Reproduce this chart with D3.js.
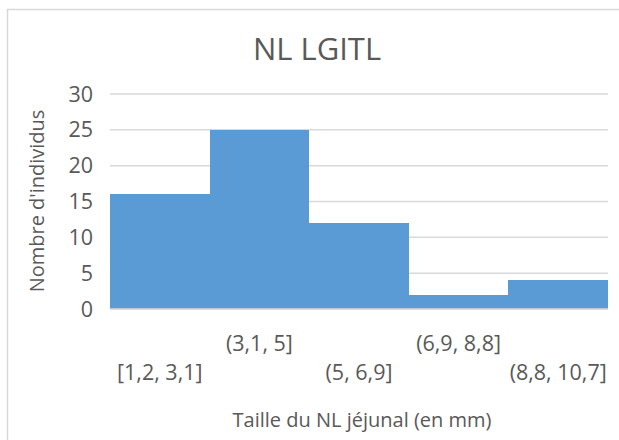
<!DOCTYPE html>
<html><head><meta charset="utf-8">
<script src="https://cdn.jsdelivr.net/npm/d3@7"></script>
<style>body{margin:0;background:#fff}svg{display:block}text{font-family:"Open Sans",sans-serif;fill:#595959}</style>
</head><body><svg id="c" width="619" height="440"></svg>
<script>
const categories = ["[1,2, 3,1]", "(3,1, 5]", "(5, 6,9]", "(6,9, 8,8]", "(8,8, 10,7]"];
const counts = [16, 25, 12, 2, 4];
const yTicks = [0, 5, 10, 15, 20, 25, 30];
const title = "NL LGITL";
const xTitle = "Taille du NL jéjunal (en mm)";
const yTitle = "Nombre d'individus";

const svg = d3.select("#c");
const m = {l:110, r:11, t:94, b:131};
const W = 619, H = 440;
svg.append("rect").attr("x",7.5).attr("y",9.5).attr("width",700).attr("height",600)
  .attr("fill","#fff").attr("stroke","#d9d9d9").attr("stroke-width",1.5);

const x = d3.scaleBand().domain(categories).range([m.l, W - m.r]).padding(0);
const y = d3.scaleLinear().domain([0, 30]).range([H - m.b, m.t]);

const grid = svg.append("g");
grid.selectAll("line").data(yTicks).join("line")
  .attr("x1", m.l).attr("x2", W - m.r)
  .attr("y1", d => y(d)).attr("y2", d => y(d))
  .attr("stroke", "#d9d9d9").attr("stroke-width", 1.5);

svg.append("g").attr("shape-rendering","crispEdges").selectAll("rect").data(counts).join("rect")
  .attr("x", (d,i) => Math.round(x(categories[i])))
  .attr("width", (d,i) => Math.round(x(categories[i]) + x.bandwidth()) - Math.round(x(categories[i])))
  .attr("y", d => Math.round(y(d)))
  .attr("height", d => Math.round(y(0)) - Math.round(y(d)))
  .attr("fill", "#5b9bd5");

svg.append("line").attr("x1", m.l).attr("x2", W - m.r).attr("y1", y(0)).attr("y2", y(0))
  .attr("stroke","#d9d9d9").attr("stroke-width",1.5);

// y tick labels
svg.append("g").selectAll("text").data(yTicks).join("text")
  .attr("x", 93).attr("y", d => y(d)).attr("dy","0.35em")
  .attr("text-anchor","end").attr("font-size",21.5).text(d => d);

// x labels staggered
svg.append("g").selectAll("text").data(categories).join("text")
  .attr("x", d => x(d) + x.bandwidth()/2)
  .attr("y", (d,i) => i % 2 === 0 ? 380 : 351)
  .attr("text-anchor","middle").attr("font-size",21.5).text(d => d);

svg.append("text").attr("x", 317).attr("y", 60).attr("text-anchor","middle")
  .attr("font-size",31).text(title);

svg.append("text").attr("x", 362).attr("y", 427).attr("text-anchor","middle")
  .attr("font-size",20).text(xTitle);

svg.append("text").attr("transform","translate(44,201) rotate(-90)").attr("text-anchor","middle")
  .attr("font-size",20).text(yTitle);
</script></body></html>
